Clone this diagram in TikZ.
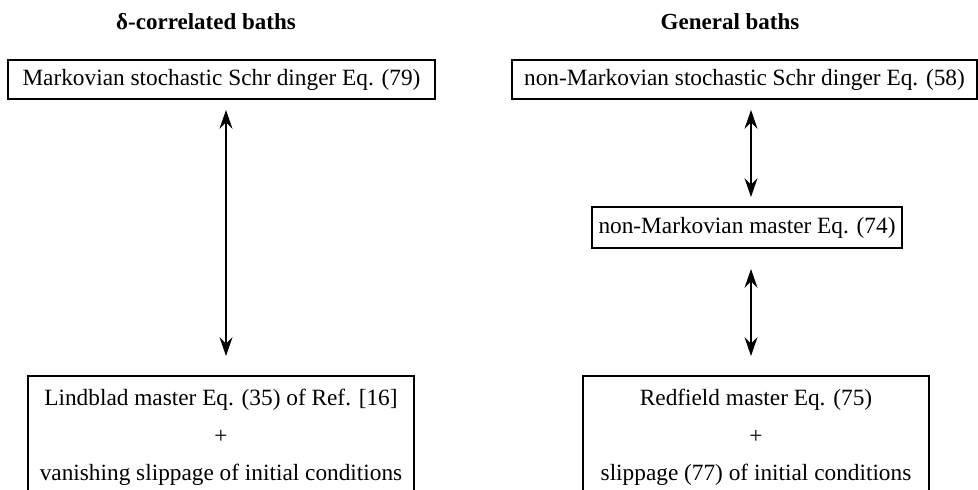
\documentclass[tikz,border=0pt]{standalone}
\usepackage{fontspec}
\setmainfont{Liberation Serif}
\usetikzlibrary{arrows.meta}
\tikzset{
  eqbox/.style={draw, line width=1.8pt, inner sep=0pt, align=center,
    font=\fontsize{23.3}{37.5}\selectfont},
  heading/.style={font=\fontsize{23}{28}\selectfont\bfseries, inner sep=0pt},
  tipdbl/.tip={Stealth[length=19pt,width=13pt,inset=6.5pt]},
  dbl/.style={line width=1.8pt, tipdbl-tipdbl}
}
\begin{document}
\begin{tikzpicture}[x=1pt,y=1pt]
\useasboundingbox (0,0) rectangle (978,490);
\clip (0,0) rectangle (978,490);
\fill[white] (0,0) rectangle (978,490);
% headings
\node[heading] (h1) at (206,468) {δ-correlated baths};
\node[heading] (h2) at (730,468) {General baths};
% left column
\node[eqbox, minimum width=427, minimum height=39] (l1) at (221.5,410.5)
  {Markovian stochastic Schr dinger Eq. (79)};
\node[eqbox, minimum width=386, minimum height=123] (l2) at (221,52.5)
  {Lindblad master Eq. (35) of Ref. [16]\\+\\vanishing slippage of initial conditions};
% right column
\node[eqbox, minimum width=465, minimum height=39] (r1) at (744.5,410.5)
  {non-Markovian stochastic Schr dinger Eq. (58)};
\node[eqbox, minimum width=310, minimum height=41] (r2) at (747,262.5)
  {non-Markovian master Eq. (74)};
\node[eqbox, minimum width=346, minimum height=123] (r3) at (756,52.5)
  {Redfield master Eq. (75)\\+\\slippage (77) of initial conditions};
% arrows
\draw[dbl] ([xshift=4.5pt,yshift=-10pt]l1.south) -- ([xshift=5pt,yshift=19pt]l2.north);
\draw[dbl] ([xshift=6.5pt,yshift=-10pt]r1.south) -- ([xshift=4pt,yshift=9pt]r2.north);
\draw[dbl] ([xshift=4pt,yshift=-20pt]r2.south) -- ([xshift=-5pt,yshift=19pt]r3.north);
\end{tikzpicture}
\end{document}
